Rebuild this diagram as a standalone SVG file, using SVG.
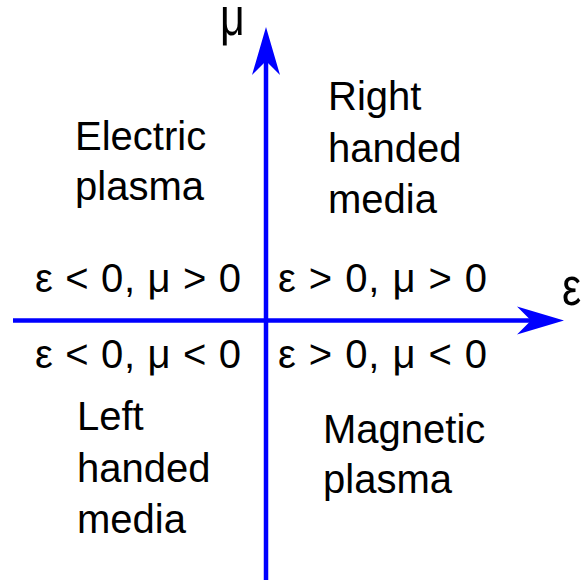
<svg xmlns="http://www.w3.org/2000/svg" width="584" height="580" viewBox="0 0 584 580">
<style>
text{font-family:"Liberation Sans",Arial,sans-serif;fill:#000}
.lbl{font-size:40px}
.ax{stroke:#0000ff;stroke-width:4.5;fill:none}
.head{fill:#0000ff}
</style>
<rect width="584" height="580" fill="#fff"/>
<g id="connectors">
<line class="ax" x1="13" y1="320.5" x2="535" y2="320.5"/>
<polygon class="head" points="564,320.5 517,306.5 531,320.5 517,334.5"/>
<line class="ax" x1="266" y1="580" x2="266" y2="60"/>
<polygon class="head" points="266,27 280,75 266,61 252,75"/>
</g>
<g id="axis-mu"><text transform="translate(220,35) scale(1,1.25)" font-size="43">μ</text></g>
<g id="axis-eps"><text transform="translate(562,305) scale(1,1.25)" font-size="43">ε</text></g>
<g id="electric-plasma"><text class="lbl" x="75" y="150">Electric</text><text class="lbl" x="75" y="200">plasma</text></g>
<g id="right-handed"><text class="lbl" x="328" y="110">Right</text><text class="lbl" x="328" y="162">handed</text><text class="lbl" x="328" y="213">media</text></g>
<g id="left-handed"><text class="lbl" x="77" y="430">Left</text><text class="lbl" x="77" y="482">handed</text><text class="lbl" x="77" y="533">media</text></g>
<g id="magnetic-plasma"><text class="lbl" x="323" y="443">Magnetic</text><text class="lbl" x="323" y="493">plasma</text></g>
<g id="q2"><text class="lbl" x="35" y="292" textLength="206" lengthAdjust="spacing">ε &lt; 0, μ &gt; 0</text></g>
<g id="q1"><text class="lbl" x="278" y="292" textLength="209" lengthAdjust="spacing">ε &gt; 0, μ &gt; 0</text></g>
<g id="q3"><text class="lbl" x="35" y="368" textLength="206" lengthAdjust="spacing">ε &lt; 0, μ &lt; 0</text></g>
<g id="q4"><text class="lbl" x="278" y="368" textLength="209" lengthAdjust="spacing">ε &gt; 0, μ &lt; 0</text></g>
</svg>
